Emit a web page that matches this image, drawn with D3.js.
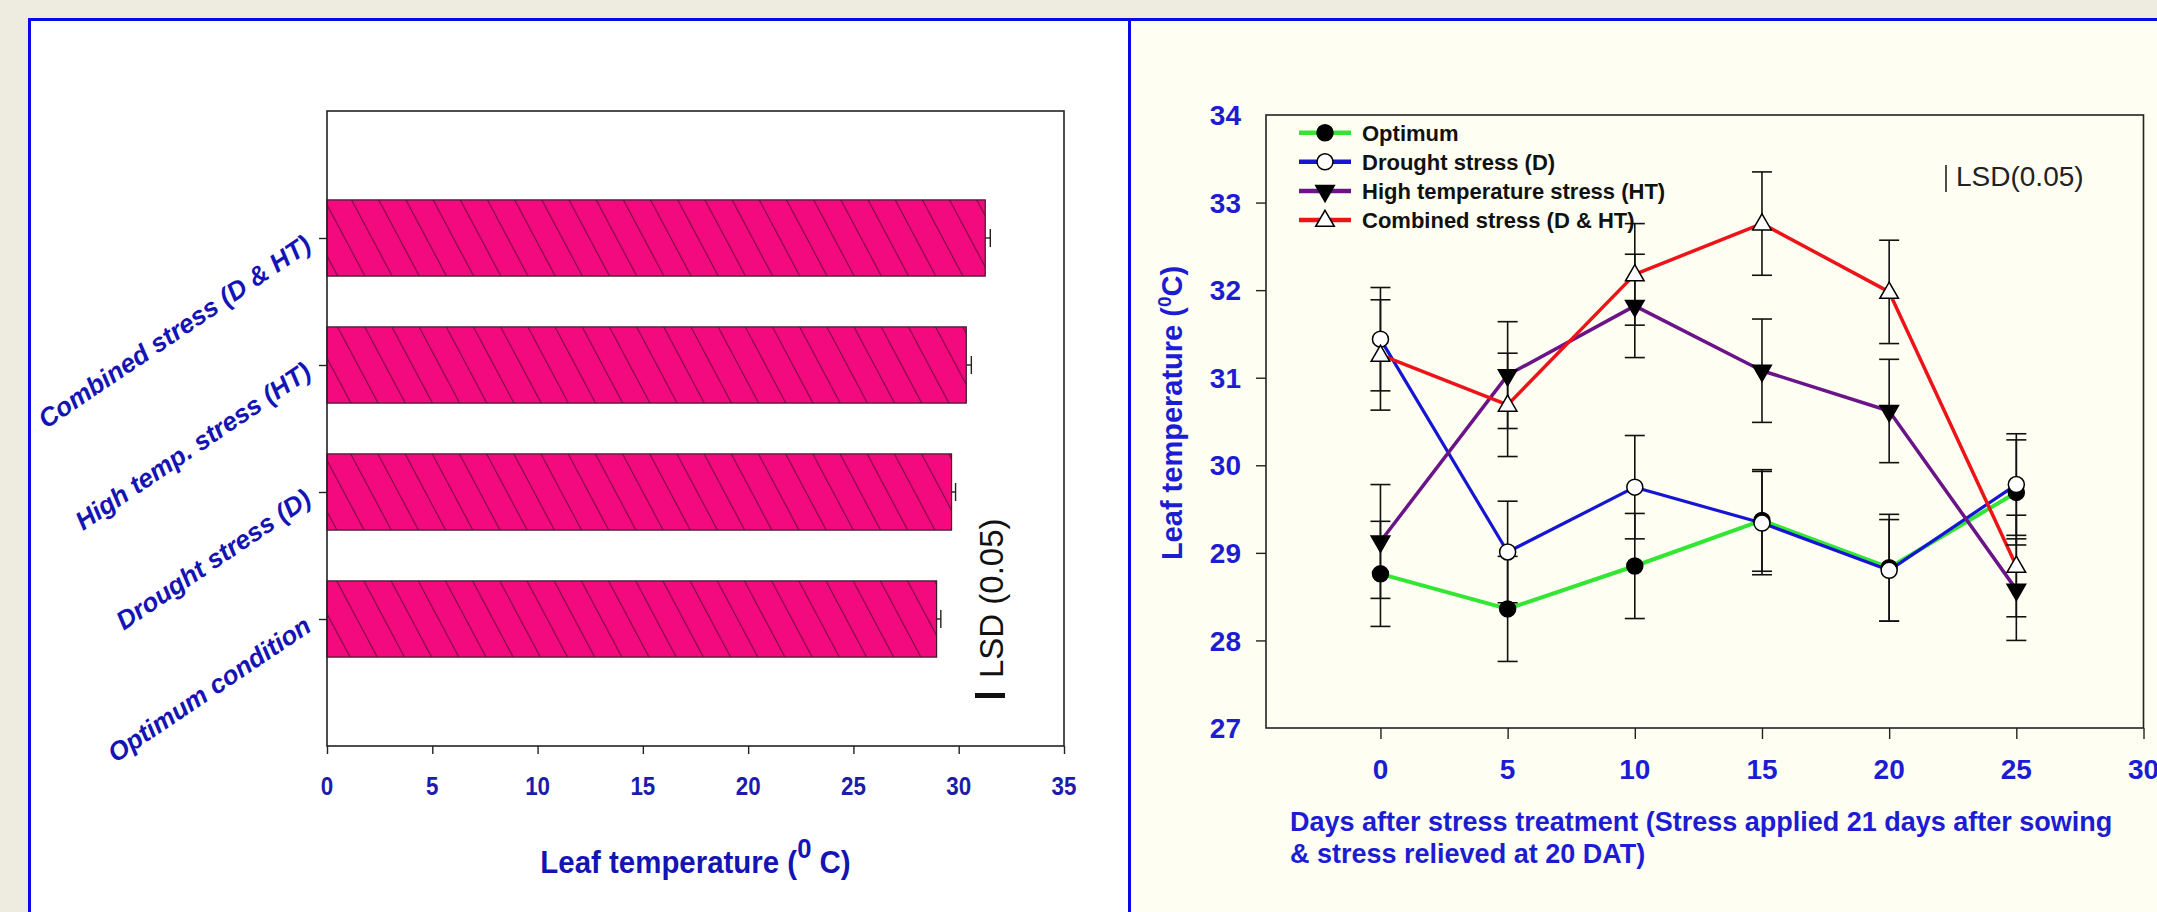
<!DOCTYPE html>
<html>
<head>
<meta charset="utf-8">
<script src="https://cdn.jsdelivr.net/npm/d3@7"></script>
<style>
  html, body { margin: 0; padding: 0; background: #eeece1; }
  svg { display: block; }
</style>
</head>
<body>
<svg id="chart" width="2157" height="912"></svg>
<script>
// ---------------- DATA ----------------
// Left panel: horizontal bar chart
const barCategories = ["Optimum condition", "Drought stress (D)", "High temp. stress (HT)", "Combined stress (D & HT)"];
const barValues = [28.95, 29.66, 30.36, 31.26];
const barErrors = [0.20, 0.19, 0.24, 0.24];
const barTicks = [0, 5, 10, 15, 20, 25, 30, 35];

// Right panel: line chart
const days = [0, 5, 10, 15, 20, 25];
const seriesNames = ["Optimum", "Drought stress (D)", "High temperature stress (HT)", "Combined stress (D & HT)"];
const optimum     = [28.76, 28.36, 28.85, 29.37, 28.83, 29.69];
const optimumErr  = [0.60, 0.60, 0.60, 0.58, 0.61, 0.60];
const drought     = [31.44, 29.01, 29.75, 29.34, 28.80, 29.78];
const droughtErr  = [0.59, 0.58, 0.59, 0.59, 0.58, 0.58];
const heat        = [29.13, 31.03, 31.82, 31.08, 30.62, 28.58];
const heatErr     = [0.65, 0.61, 0.59, 0.59, 0.59, 0.58];
const combined    = [31.26, 30.69, 32.18, 32.76, 31.98, 28.85];
const combinedErr = [0.63, 0.59, 0.58, 0.59, 0.59, 0.58];
const xTicksDays  = [0, 5, 10, 15, 20, 25, 30];
const yTicksTemp  = [27, 28, 29, 30, 31, 32, 33, 34];

// ---------------- DRAW ----------------
const svg = d3.select("#chart");
const FONT = "'Liberation Sans', Arial, Helvetica, sans-serif";

// Backgrounds
svg.append("rect").attr("x", 0).attr("y", 0).attr("width", 2157).attr("height", 912).attr("fill", "#eeece1");
svg.append("rect").attr("x", 29).attr("y", 19).attr("width", 1100).attr("height", 900).attr("fill", "#ffffff");
svg.append("rect").attr("x", 1129).attr("y", 19).attr("width", 1040).attr("height", 900).attr("fill", "#fefef2");
// blue frame
svg.append("path").attr("d", "M29.5,915 L29.5,19.5 L2160,19.5").attr("fill", "none").attr("stroke", "#0a0ae6").attr("stroke-width", 3);
svg.append("line").attr("x1", 1129.5).attr("x2", 1129.5).attr("y1", 19).attr("y2", 915).attr("stroke", "#0a0ae6").attr("stroke-width", 3);

// ===== Left panel =====
const L = { x0: 327, x1: 1064, y0: 111, y1: 746 };
const xBar = d3.scaleLinear().domain([0, 35]).range([L.x0, L.x1]);
const yBar = d3.scaleLinear().domain([0, 5]).range([L.y1, L.y0]);
const barHalf = 0.3;

const defs = svg.append("defs");
const pat = defs.append("pattern").attr("id", "hatch").attr("patternUnits", "userSpaceOnUse")
  .attr("width", 24).attr("height", 24).attr("patternTransform", "rotate(-28)");
pat.append("rect").attr("width", 24).attr("height", 24).attr("fill", "#f30a7e");
pat.append("line").attr("x1", 0.6).attr("x2", 0.6).attr("y1", 0).attr("y2", 24)
  .attr("stroke", "#4a0a2a").attr("stroke-width", 1.1).attr("stroke-opacity", 0.75);

const gL = svg.append("g");
// error bars (outward part)
barValues.forEach((v, i) => {
  const yc = yBar(i + 1);
  gL.append("line").attr("x1", xBar(v)).attr("x2", xBar(v + barErrors[i])).attr("y1", yc).attr("y2", yc)
    .attr("stroke", "#222").attr("stroke-width", 1.4);
  gL.append("line").attr("x1", xBar(v + barErrors[i])).attr("x2", xBar(v + barErrors[i]))
    .attr("y1", yc - 9).attr("y2", yc + 9).attr("stroke", "#222").attr("stroke-width", 1.4);
});
gL.selectAll("rect.bar").data(barValues).enter().append("rect").attr("class", "bar")
  .attr("x", xBar(0))
  .attr("y", (d, i) => yBar(i + 1 + barHalf))
  .attr("width", d => xBar(d) - xBar(0))
  .attr("height", (d, i) => yBar(i + 1 - barHalf) - yBar(i + 1 + barHalf))
  .attr("fill", "url(#hatch)").attr("stroke", "#3a1a2a").attr("stroke-width", 1.2);

// frame
gL.append("rect").attr("x", L.x0).attr("y", L.y0).attr("width", L.x1 - L.x0).attr("height", L.y1 - L.y0)
  .attr("fill", "none").attr("stroke", "#222").attr("stroke-width", 1.6);

// x axis
const axL = d3.axisBottom(xBar).tickValues(barTicks).tickSize(8).tickFormat(d3.format("d"));
const gAxL = gL.append("g").attr("transform", `translate(0,${L.y1})`).call(axL);
gAxL.select(".domain").remove();
gAxL.selectAll(".tick line").attr("stroke", "#222").attr("stroke-width", 1.4);
gAxL.selectAll(".tick text").remove();
barTicks.forEach(t => {
  gL.append("text").attr("transform", `translate(${xBar(t)},795) scale(0.86,1)`)
    .attr("text-anchor", "middle").attr("font-family", FONT).attr("font-weight", "bold")
    .attr("font-size", 26).attr("fill", "#1c1caa").text(t);
});
// y axis ticks + rotated category labels
const axLY = d3.axisLeft(yBar).tickValues([1, 2, 3, 4]).tickSize(8).tickFormat("");
const gAxLY = gL.append("g").attr("transform", `translate(${L.x0},0)`).call(axLY);
gAxLY.select(".domain").remove();
gAxLY.selectAll(".tick line").attr("stroke", "#222").attr("stroke-width", 1.4);
barCategories.forEach((c, i) => {
  gL.append("text").attr("transform", `translate(313,${yBar(i + 1) + 11}) rotate(-34)`)
    .attr("text-anchor", "end").attr("font-family", FONT).attr("font-weight", "bold")
    .attr("font-style", "italic").attr("font-size", 26).attr("fill", "#1414b4").text(c);
});
// x title
const tL = gL.append("text").attr("transform", `translate(${(L.x0 + L.x1) / 2},873) scale(0.95,1)`)
  .attr("text-anchor", "middle").attr("font-family", FONT).attr("font-weight", "bold")
  .attr("font-size", 31).attr("fill", "#1414b4");
tL.append("tspan").text("Leaf temperature (");
tL.append("tspan").attr("dy", -15).attr("font-size", 27).text("0");
tL.append("tspan").attr("dy", 15).text(" C)");
// LSD annotation (rotated)
gL.append("rect").attr("x", 975).attr("y", 693).attr("width", 30).attr("height", 5).attr("fill", "#111");
gL.append("text").attr("transform", "translate(1003,678) rotate(-90)")
  .attr("font-family", FONT).attr("font-size", 33).attr("fill", "#111").text("LSD (0.05)");

// ===== Right panel =====
const R = { x0: 1266, x1: 2143.5, y0: 115, y1: 728 };
const xR = d3.scaleLinear().domain([-4.5, 30]).range([R.x0, R.x1]);
const yR = d3.scaleLinear().domain([27, 34]).range([R.y1, R.y0]);
const gR = svg.append("g");

gR.append("rect").attr("x", R.x0).attr("y", R.y0).attr("width", R.x1 - R.x0).attr("height", R.y1 - R.y0)
  .attr("fill", "none").attr("stroke", "#222").attr("stroke-width", 1.6);

const axRX = d3.axisBottom(xR).tickValues(xTicksDays).tickSize(11).tickFormat("");
const gAxRX = gR.append("g").attr("transform", `translate(0,${R.y1})`).call(axRX);
gAxRX.select(".domain").remove();
gAxRX.selectAll(".tick line").attr("stroke", "#222").attr("stroke-width", 1.4);
xTicksDays.forEach(t => {
  gR.append("text").attr("x", xR(t)).attr("y", 779).attr("text-anchor", "middle")
    .attr("font-family", FONT).attr("font-weight", "bold").attr("font-size", 28)
    .attr("fill", "#1c1cd2").text(t);
});
const axRY = d3.axisLeft(yR).tickValues(yTicksTemp.filter(t => t > 27 && t < 34)).tickSize(10).tickFormat("");
const gAxRY = gR.append("g").attr("transform", `translate(${R.x0},0)`).call(axRY);
gAxRY.select(".domain").remove();
gAxRY.selectAll(".tick line").attr("stroke", "#222").attr("stroke-width", 1.4);
yTicksTemp.forEach(t => {
  gR.append("text").attr("x", 1241).attr("y", yR(t)).attr("dy", "0.36em").attr("text-anchor", "end")
    .attr("font-family", FONT).attr("font-weight", "bold").attr("font-size", 28)
    .attr("fill", "#1c1cd2").text(t);
});
// y title
const tY = gR.append("text").attr("transform", "translate(1182,413) rotate(-90)").attr("text-anchor", "middle")
  .attr("font-family", FONT).attr("font-weight", "bold").attr("font-size", 29).attr("fill", "#1c1cd2");
tY.append("tspan").text("Leaf temperature (");
tY.append("tspan").attr("dy", -11).attr("font-size", 19).text("0");
tY.append("tspan").attr("dy", 11).text("C)");
// x title (two lines)
const tX = gR.append("text").attr("font-family", FONT).attr("font-weight", "bold").attr("font-size", 27).attr("fill", "#1c1cd2");
tX.append("tspan").attr("x", 1290).attr("y", 831).text("Days after stress treatment (Stress applied 21 days after sowing");
tX.append("tspan").attr("x", 1290).attr("y", 863).text("& stress relieved at 20 DAT)");

// series setup
const series = [
  { name: seriesNames[0], vals: optimum, errs: optimumErr, color: "#33e633", marker: "circle", fill: "#000", w: 4 },
  { name: seriesNames[1], vals: drought, errs: droughtErr, color: "#1515d2", marker: "circle", fill: "#fff", w: 3.2 },
  { name: seriesNames[2], vals: heat, errs: heatErr, color: "#6a1488", marker: "down", fill: "#000", w: 3.5 },
  { name: seriesNames[3], vals: combined, errs: combinedErr, color: "#ec1418", marker: "up", fill: "#fff", w: 3.5 }
];
function drawMarker(g, m, x, y, fill) {
  if (m === "circle") {
    g.append("circle").attr("cx", x).attr("cy", y).attr("r", 8).attr("fill", fill).attr("stroke", "#000").attr("stroke-width", 1.5);
  } else {
    const sym = d3.symbol().type(d3.symbolTriangle).size(150);
    g.append("path").attr("d", sym()).attr("transform", `translate(${x},${y + (m === "down" ? 0 : 1)}) rotate(${m === "down" ? 180 : 0})`)
      .attr("fill", fill).attr("stroke", "#000").attr("stroke-width", 1.5);
  }
}

// legend
const legY0 = 132.7, legDY = 29.1;
series.forEach((s, i) => {
  const y = legY0 + i * legDY;
  gR.append("line").attr("x1", 1299).attr("x2", 1351).attr("y1", y).attr("y2", y)
    .attr("stroke", s.color).attr("stroke-width", 4.5);
  drawMarker(gR, s.marker, 1325, y, s.fill);
  gR.append("text").attr("x", 1362).attr("y", y).attr("dy", "0.36em").attr("font-family", FONT)
    .attr("font-weight", "bold").attr("font-size", 22).attr("fill", "#111").text(s.name);
});

// lines
const line = d3.line().x((d, i) => xR(days[i])).y(d => yR(d));
series.forEach(s => {
  gR.append("path").attr("d", line(s.vals)).attr("fill", "none").attr("stroke", s.color)
    .attr("stroke-width", s.w).attr("stroke-linejoin", "round");
});
// error bars
series.forEach(s => {
  s.vals.forEach((v, i) => {
    const x = xR(days[i]);
    const top = yR(v + s.errs[i]), bot = yR(v - s.errs[i]);
    gR.append("line").attr("x1", x).attr("x2", x).attr("y1", top).attr("y2", bot).attr("stroke", "#111").attr("stroke-width", 1.6);
    [top, bot].forEach(yy => gR.append("line").attr("x1", x - 10).attr("x2", x + 10).attr("y1", yy).attr("y2", yy)
      .attr("stroke", "#111").attr("stroke-width", 1.6));
  });
});
// markers
series.forEach(s => {
  s.vals.forEach((v, i) => drawMarker(gR, s.marker, xR(days[i]), yR(v), s.fill));
});
// LSD annotation
gR.append("line").attr("x1", 1946).attr("x2", 1946).attr("y1", 165).attr("y2", 192).attr("stroke", "#222").attr("stroke-width", 1.6);
gR.append("text").attr("x", 1956).attr("y", 186).attr("font-family", FONT).attr("font-size", 28)
  .attr("fill", "#222").text("LSD(0.05)");
</script>
</body>
</html>
